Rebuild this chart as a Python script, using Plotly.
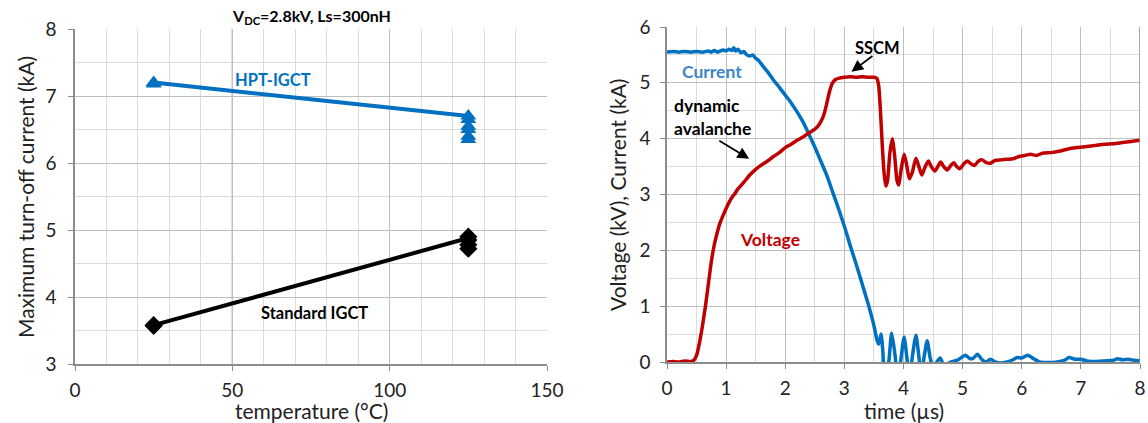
import plotly.graph_objects as go

# ---- Left panel: maximum turn-off current vs temperature ----
temp_levels = [25, 125]
hpt_line_kA = [7.2, 6.7]
std_line_kA = [3.58, 4.88]

hpt_temp = [25, 25, 125, 125, 125, 125, 125, 125]
hpt_kA = [7.2, 7.18, 6.7, 6.65, 6.55, 6.5, 6.4, 6.35]
std_temp = [25, 25, 125, 125, 125, 125]
std_kA = [3.58, 3.57, 4.9, 4.85, 4.78, 4.72]

# ---- Right panel: turn-off waveforms ----
current_t = [0.00, 0.10, 0.20, 0.30, 0.40, 0.50, 0.60, 0.70, 0.75, 0.80, 0.85, 0.90, 0.95, 1.00,
             1.05, 1.10, 1.13, 1.16, 1.20, 1.25, 1.30, 1.35, 1.40, 1.45, 1.50, 1.55, 1.60, 1.70,
             1.80, 1.90, 2.00, 2.10, 2.20, 2.30, 2.40, 2.50, 2.60, 2.70, 2.80, 2.90, 3.00, 3.10,
             3.20, 3.30, 3.40, 3.50, 3.55, 3.58, 3.62, 3.65, 3.68, 3.74, 3.80, 3.86, 3.90, 3.95,
             4.01, 4.06, 4.10, 4.15, 4.21, 4.26, 4.30, 4.35, 4.40, 4.45, 4.50, 4.55, 4.62, 4.68,
             4.75, 4.80, 4.90, 4.95, 5.05, 5.12, 5.18, 5.25, 5.32, 5.40, 5.47, 5.55, 5.65, 5.75,
             5.85, 5.92, 6.00, 6.10, 6.20, 6.30, 6.45, 6.60, 6.72, 6.80, 6.90, 7.00, 7.10, 7.25,
             7.40, 7.55, 7.62, 7.70, 7.80, 7.90, 8.00]
current_kA = [5.55, 5.56, 5.55, 5.56, 5.55, 5.56, 5.55, 5.57, 5.55, 5.58, 5.55, 5.57, 5.59, 5.57,
              5.60, 5.58, 5.63, 5.57, 5.60, 5.54, 5.56, 5.50, 5.48, 5.50, 5.44, 5.40, 5.33, 5.20,
              5.05, 4.92, 4.78, 4.64, 4.48, 4.30, 4.08, 3.85, 3.60, 3.35, 3.05, 2.75, 2.43, 2.08,
              1.75, 1.40, 1.05, 0.65, 0.40, 0.32, 0.50, 0.20, -0.30, -0.10, 0.52, 0.10, -0.35, 0.00,
              0.45, 0.05, -0.30, 0.10, 0.48, 0.10, -0.25, 0.10, 0.38, 0.08, -0.10, -0.02, 0.07, -0.05,
              -0.03, 0.00, 0.03, 0.06, 0.12, 0.06, 0.07, 0.14, 0.05, 0.00, 0.05, 0.00, -0.02, 0.00,
              0.04, 0.08, 0.07, 0.12, 0.06, 0.00, -0.01, 0.00, 0.03, 0.08, 0.05, 0.05, 0.02, 0.01,
              0.02, 0.03, 0.06, 0.04, 0.05, 0.03, 0.02]

voltage_t = [0.00, 0.10, 0.20, 0.30, 0.40, 0.45, 0.50, 0.55, 0.60, 0.65, 0.70, 0.75, 0.80, 0.85,
             0.90, 0.95, 1.00, 1.05, 1.10, 1.15, 1.20, 1.30, 1.40, 1.50, 1.60, 1.70, 1.80, 1.90,
             2.00, 2.10, 2.20, 2.30, 2.40, 2.50, 2.55, 2.60, 2.65, 2.70, 2.75, 2.80, 2.85, 2.90,
             3.00, 3.10, 3.20, 3.30, 3.40, 3.50, 3.55, 3.58, 3.61, 3.64, 3.67, 3.70, 3.73, 3.77,
             3.81, 3.85, 3.89, 3.92, 3.96, 4.01, 4.05, 4.10, 4.15, 4.21, 4.26, 4.31, 4.36, 4.42,
             4.47, 4.53, 4.58, 4.63, 4.68, 4.74, 4.80, 4.85, 4.90, 4.95, 5.02, 5.08, 5.14, 5.20,
             5.27, 5.33, 5.40, 5.47, 5.55, 5.65, 5.75, 5.85, 5.95, 6.05, 6.15, 6.25, 6.35, 6.50,
             6.65, 6.80, 6.95, 7.10, 7.25, 7.40, 7.55, 7.70, 7.85, 8.00]
voltage_kV = [0.00, 0.01, 0.00, 0.02, 0.01, 0.03, 0.12, 0.35, 0.65, 1.00, 1.40, 1.80, 2.10, 2.32,
              2.50, 2.63, 2.75, 2.86, 2.95, 3.02, 3.10, 3.22, 3.35, 3.45, 3.53, 3.60, 3.68, 3.75,
              3.84, 3.90, 3.97, 4.03, 4.10, 4.17, 4.22, 4.30, 4.42, 4.62, 4.85, 5.00, 5.06, 5.08,
              5.10, 5.11, 5.10, 5.11, 5.10, 5.10, 5.08, 4.95, 4.50, 3.90, 3.40, 3.15, 3.25, 3.75,
              4.00, 3.70, 3.25, 3.17, 3.45, 3.72, 3.55, 3.28, 3.40, 3.65, 3.50, 3.35, 3.48, 3.60,
              3.50, 3.42, 3.50, 3.58, 3.50, 3.44, 3.52, 3.57, 3.50, 3.46, 3.55, 3.60, 3.55, 3.52,
              3.60, 3.62, 3.57, 3.56, 3.61, 3.62, 3.63, 3.64, 3.68, 3.70, 3.72, 3.70, 3.74, 3.75,
              3.78, 3.82, 3.84, 3.86, 3.88, 3.90, 3.91, 3.93, 3.95, 3.97]

BLUE = "#0070C0"
RED = "#C00000"
FONT = "Lato"
GRID_MAJOR = "#bfbfbf"
GRID_MINOR = "#dcdcdc"
AXIS = "#8c8c8c"

W, H = 1148, 423

fig = go.Figure()

# left panel traces
fig.add_trace(go.Scatter(x=temp_levels, y=hpt_line_kA, mode="lines",
                         line=dict(color=BLUE, width=4), xaxis="x", yaxis="y", showlegend=False))
fig.add_trace(go.Scatter(x=hpt_temp, y=hpt_kA, mode="markers",
                         marker=dict(symbol="triangle-up", size=14, color=BLUE),
                         xaxis="x", yaxis="y", showlegend=False))
fig.add_trace(go.Scatter(x=temp_levels, y=std_line_kA, mode="lines",
                         line=dict(color="black", width=4), xaxis="x", yaxis="y", showlegend=False))
fig.add_trace(go.Scatter(x=std_temp, y=std_kA, mode="markers",
                         marker=dict(symbol="diamond", size=14, color="black"),
                         xaxis="x", yaxis="y", showlegend=False))

# right panel traces
fig.add_trace(go.Scatter(x=current_t, y=current_kA, mode="lines",
                         line=dict(color=BLUE, width=3.5, shape="spline", smoothing=0.6),
                         xaxis="x2", yaxis="y2", showlegend=False))
fig.add_trace(go.Scatter(x=voltage_t, y=voltage_kV, mode="lines",
                         line=dict(color=RED, width=3.5, shape="spline", smoothing=0.6),
                         xaxis="x2", yaxis="y2", showlegend=False))


def px_x(p):
    return p / W


def px_y(p):
    return 1 - p / H


tick_font = dict(family=FONT, size=19, color="#222222")

common_axis = dict(showline=True, linecolor=AXIS, linewidth=1.5, ticks="outside",
                   ticklen=5, tickcolor=AXIS, tickfont=tick_font, zeroline=False,
                   showgrid=True, gridcolor=GRID_MAJOR, gridwidth=1, automargin=False)

fig.update_layout(
    width=W, height=H,
    margin=dict(l=0, r=0, t=0, b=0, autoexpand=False),
    paper_bgcolor="white", plot_bgcolor="white",
    font=dict(family=FONT),
    xaxis=dict(domain=[px_x(75), px_x(547)], range=[0, 150], dtick=50,
               minor=dict(dtick=10, showgrid=True, gridcolor=GRID_MINOR, gridwidth=1),
               anchor="y", ticklabelstandoff=3, **common_axis),
    yaxis=dict(domain=[px_y(364), px_y(29)], range=[3, 8], dtick=1,
               minor=dict(dtick=0.5, showgrid=True, gridcolor=GRID_MINOR, gridwidth=1),
               anchor="x", ticklabelstandoff=8, **common_axis),
    xaxis2=dict(domain=[px_x(667), px_x(1140)], range=[0, 8], dtick=1,
                minor=dict(dtick=0.5, showgrid=True, gridcolor=GRID_MINOR, gridwidth=1),
                anchor="y2", ticklabelstandoff=3, **common_axis),
    yaxis2=dict(domain=[px_y(362), px_y(27)], range=[0, 6], dtick=1,
                minor=dict(dtick=0.5, showgrid=True, gridcolor=GRID_MINOR, gridwidth=1),
                anchor="x2", ticklabelstandoff=6, **common_axis),
)

# frame details: dark vertical line at 50 °C on the left, dark right edge on the right panel
fig.add_shape(type="line", xref="x", yref="y", x0=50, x1=50, y0=3, y1=8,
              line=dict(color=AXIS, width=1.2), layer="below")
fig.add_shape(type="line", xref="x2", yref="y2", x0=8, x1=8, y0=0, y1=6,
              line=dict(color=AXIS, width=1.5), layer="above")

title_font = dict(family=FONT, size=21, color="#222222")
label_font = dict(family=FONT, size=17.5, color="black")


def paper_text(text, x, y, angle=0, font=title_font):
    return dict(text=text, x=px_x(x), y=px_y(y), xref="paper", yref="paper",
                xanchor="center", yanchor="middle", textangle=angle,
                showarrow=False, font=font)


annotations = [
    # axis titles
    paper_text("Maximum turn-off current (kA)", 25, 197, angle=-90),
    paper_text("temperature (°C)", 311, 410),
    paper_text("Voltage (kV), Current (kA)", 617, 195, angle=-90),
    paper_text("time (µs)", 904, 410),
    # left panel title
    paper_text("<b>V<sub>DC</sub>=2.8kV, Ls=300nH</b>", 311, 17,
               font=dict(family=FONT, size=16, color="black")),
    # left panel series labels
    dict(text="<b>HPT-IGCT</b>", x=63, y=7.24, xref="x", yref="y", showarrow=False,
         font=dict(family=FONT, size=16.5, color=BLUE)),
    dict(text="<b>Standard IGCT</b>", x=76, y=3.76, xref="x", yref="y", showarrow=False,
         font=dict(family=FONT, size=16.5, color="black")),
    # right panel labels
    dict(text="<b>Current</b>", x=0.76, y=5.2, xref="x2", yref="y2", showarrow=False,
         font=dict(family=FONT, size=17.5, color="#3d85c6")),
    dict(text="<b>Voltage</b>", x=1.74, y=2.19, xref="x2", yref="y2", showarrow=False,
         font=dict(family=FONT, size=17.5, color=RED)),
    dict(text="<b>dynamic<br>avalanche</b>", x=0.08, y=4.38, xref="x2", yref="y2",
         showarrow=False, xanchor="left", align="left", font=label_font),
    dict(text="", x=1.39, y=3.64, ax=0.86, ay=3.98, xref="x2", yref="y2", axref="x2", ayref="y2",
         showarrow=True, arrowhead=2, arrowsize=1.3, arrowwidth=1.8, arrowcolor="black"),
    dict(text="<b>SSCM</b>", x=3.56, y=5.62, xref="x2", yref="y2", showarrow=False,
         font=dict(family=FONT, size=16.5, color="black")),
    dict(text="", x=3.12, y=5.2, ax=3.5, ay=5.5, xref="x2", yref="y2", axref="x2", ayref="y2",
         showarrow=True, arrowhead=2, arrowsize=1.3, arrowwidth=1.8, arrowcolor="black"),
]
fig.update_layout(annotations=annotations)

fig.write_html("out.html")
